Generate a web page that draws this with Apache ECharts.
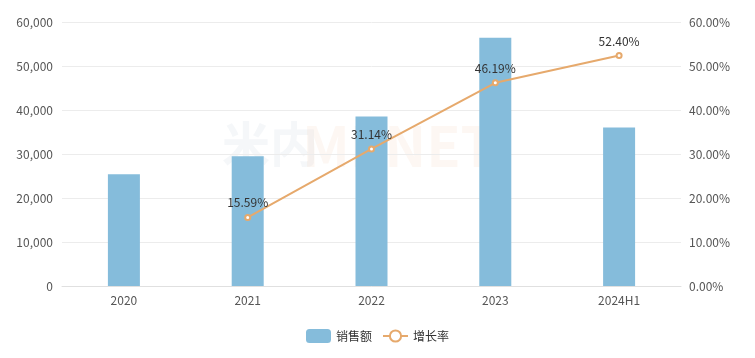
<!DOCTYPE html>
<html><head><meta charset="utf-8">
<script src="https://cdn.jsdelivr.net/npm/echarts@6/dist/echarts.min.js"></script>
<style>html,body{margin:0;padding:0;background:#fff}#c{width:755px;height:358px}</style>
</head><body><div id="c"></div>
<script>
const categories = ['2020','2021','2022','2023','2024H1'];
const sales = [25400, 29500, 38500, 56400, 36000];
const growth = [null, 15.59, 31.14, 46.19, 52.40];
const leftTicks = {min:0, max:60000, interval:10000};
const rightTicks = {min:0, max:60, interval:10};

const chart = echarts.init(document.getElementById('c'));
const font = '"Noto Sans CJK SC", "Noto Sans", sans-serif';
chart.setOption({
  animation:false,
  textStyle:{fontFamily:font},
  graphic:[
    {type:'text', left:222, top:120, style:{text:'米内', fontSize:48, fontWeight:'bold', fill:'rgba(190,205,215,0.16)', fontFamily:font}},
    {type:'text', left:302, top:118, style:{text:'MENET', fontSize:56, fontWeight:'bold', fill:'rgba(240,190,160,0.13)', fontFamily:font}}
  ],
  grid:{left:62, right:74, top:22, bottom:72, containLabel:false},
  legend:{bottom:10, left:'center', itemWidth:25, itemHeight:14, itemGap:10,
    textStyle:{color:'#333', fontSize:12},
    data:[{name:'销售额'},{name:'增长率'}]},
  xAxis:{type:'category', data:categories,
    axisLine:{lineStyle:{color:'#e0e0e0'}}, axisTick:{show:false},
    axisLabel:{color:'#555', fontSize:12, margin:8}},
  yAxis:[
    {type:'value', min:leftTicks.min, max:leftTicks.max, interval:leftTicks.interval,
      axisLabel:{color:'#555', fontSize:12, margin:9, formatter:v=>v.toLocaleString('en-US')},
      splitLine:{lineStyle:{color:'#ececec'}}, axisLine:{show:false}, axisTick:{show:false}},
    {type:'value', min:rightTicks.min, max:rightTicks.max, interval:rightTicks.interval,
      axisLabel:{color:'#555', fontSize:12, margin:8, formatter:v=>v.toFixed(2)+'%'},
      splitLine:{show:false}, axisLine:{show:false}, axisTick:{show:false}}
  ],
  series:[
    {name:'销售额', type:'bar', data:sales, barWidth:32, itemStyle:{color:'#85bcdb'}},
    {name:'增长率', type:'line', yAxisIndex:1, data:growth, symbol:'emptyCircle', symbolSize:5,
      lineStyle:{color:'#e6a96c', width:2}, itemStyle:{color:'#e6a96c'},
      label:{show:true, position:'top', color:'#333', fontSize:12, formatter:p=>p.value.toFixed(2)+'%'}}
  ]
});
</script></body></html>
